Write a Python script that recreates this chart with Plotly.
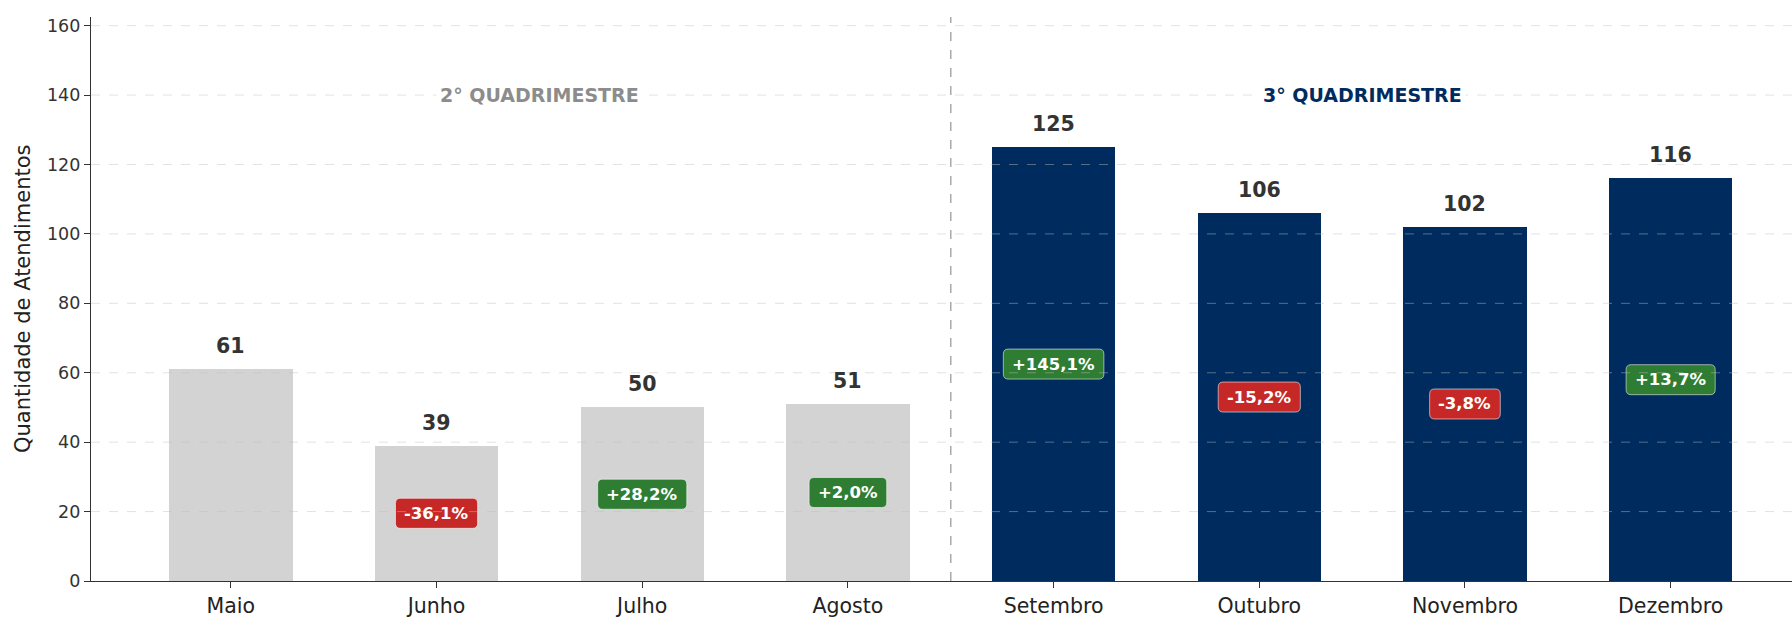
import plotly.graph_objects as go

# Monthly attendance counts, grouped by four-month period
months_q2 = ["Maio", "Junho", "Julho", "Agosto"]
values_q2 = [61, 39, 50, 51]
months_q3 = ["Setembro", "Outubro", "Novembro", "Dezembro"]
values_q3 = [125, 106, 102, 116]

section_titles = ["2° QUADRIMESTRE", "3° QUADRIMESTRE"]
y_ticks = [0, 20, 40, 60, 80, 100, 120, 140, 160]

GRAY_BAR = "#D3D3D3"
NAVY = "#002B5E"
GREEN = "#2E7D32"
RED = "#C62828"
FONT = "DejaVu Sans"

months = months_q2 + months_q3
values = values_q2 + values_q3
colors = [GRAY_BAR] * len(values_q2) + [NAVY] * len(values_q3)
xs = list(range(len(months)))

y_top = max(values) * 1.3

fig = go.Figure()
fig.add_trace(go.Bar(
    x=xs, y=values, width=0.6,
    marker=dict(color=colors, line=dict(width=0)),
    hoverinfo="skip",
))

annotations = []
shapes = []

# value labels above each bar
for x, v in zip(xs, values):
    annotations.append(dict(
        x=x, y=v, xref="x", yref="y", text=f"<b>{v}</b>",
        showarrow=False, yanchor="middle", yshift=23,
        font=dict(family=FONT, size=20.5, color="#333333"),
    ))

# advance widths (em) of DejaVu Sans Bold, used to size the badges
BOLD_W = {"+": 0.838, "-": 0.415, ",": 0.380, "%": 1.002}
for d in "0123456789":
    BOLD_W[d] = 0.696

BADGE_FS = 16.5
BADGE_H = 30
BADGE_PAD = 9
BADGE_R = 5


def rounded_rect(w, h, r):
    a, b = w / 2, h / 2
    return (f"M {-a + r},{-b} L {a - r},{-b} Q {a},{-b} {a},{-b + r} "
            f"L {a},{b - r} Q {a},{b} {a - r},{b} L {-a + r},{b} "
            f"Q {-a},{b} {-a},{b - r} L {-a},{-b + r} Q {-a},{-b} {-a + r},{-b} Z")


# month-over-month change badges, centred at half the bar height
for i in range(1, len(values)):
    pct = (values[i] - values[i - 1]) / values[i - 1] * 100
    label = f"{pct:+.1f}%".replace(".", ",")
    fill = GREEN if pct >= 0 else RED
    w = sum(BOLD_W.get(c, 0.6) for c in label) * BADGE_FS + 2 * BADGE_PAD
    shapes.append(dict(
        type="path", xref="x", yref="y",
        xsizemode="pixel", ysizemode="pixel",
        xanchor=xs[i], yanchor=values[i] / 2,
        path=rounded_rect(w, BADGE_H, BADGE_R),
        fillcolor=fill, line=dict(color="rgba(255,255,255,0.55)", width=1),
        layer="above",
    ))
    annotations.append(dict(
        x=xs[i], y=values[i] / 2, xref="x", yref="y",
        text=f"<b>{label}</b>", showarrow=False,
        font=dict(family=FONT, size=BADGE_FS, color="white"),
    ))

# dashed horizontal grid drawn over the bars
for t in y_ticks[1:]:
    shapes.append(dict(
        type="line", xref="paper", yref="y", x0=0, x1=1, y0=t, y1=t,
        line=dict(color="rgba(190,190,190,0.45)", width=1, dash="dash"),
        layer="above",
    ))

# separator between the two periods
split = len(months_q2) - 0.5
shapes.append(dict(
    type="line", xref="x", yref="paper", x0=split, x1=split, y0=0, y1=1,
    line=dict(color="#AAAAAA", width=1.5, dash="dash"), layer="below",
))

# period titles
centers = [(len(months_q2) - 1) / 2, len(months_q2) + (len(months_q3) - 1) / 2]
title_colors = ["#8C8C8C", NAVY]
for cx, txt, col in zip(centers, section_titles, title_colors):
    annotations.append(dict(
        x=cx, y=max(values) * 1.12, xref="x", yref="y",
        text=f"<b>{txt}</b>", showarrow=False,
        font=dict(family=FONT, size=19, color=col),
        bgcolor="white", borderpad=3,
    ))

# y-axis title
annotations.append(dict(
    x=0, y=0.5, xref="paper", yref="paper", xshift=-68,
    text="Quantidade de Atendimentos", textangle=-90, showarrow=False,
    xanchor="center", yanchor="middle",
    font=dict(family=FONT, size=21, color="#222222"),
))

fig.update_layout(
    width=1792, height=617,
    margin=dict(l=91, r=0, t=17, b=36, autoexpand=False),
    paper_bgcolor="white", plot_bgcolor="white",
    showlegend=False, bargap=0,
    font=dict(family=FONT, color="#222222"),
    shapes=shapes, annotations=annotations,
    xaxis=dict(
        range=[-0.68, 7.59], tickvals=xs, ticktext=months,
        showgrid=False, zeroline=False,
        showline=True, linecolor="#333333", linewidth=1.2,
        ticks="outside", ticklen=6, tickwidth=1, tickcolor="#333333",
        tickfont=dict(family=FONT, size=20.5, color="#222222"),
        automargin=False,
    ),
    yaxis=dict(
        range=[0, y_top], tickvals=y_ticks,
        showgrid=False, zeroline=False,
        showline=True, linecolor="#333333", linewidth=1.2,
        ticks="outside", ticklen=6, tickwidth=1, tickcolor="#333333",
        tickfont=dict(family=FONT, size=17.5, color="#333333"),
        automargin=False,
    ),
)

fig.write_html("out.html")
